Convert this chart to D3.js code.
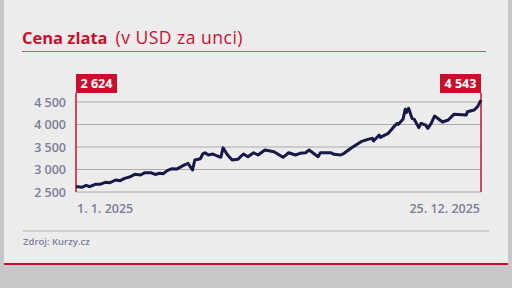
<!DOCTYPE html>
<html>
<head>
<meta charset="utf-8">
<script src="https://cdn.jsdelivr.net/npm/d3@7"></script>
<style>
  body{margin:0;background:#c7c7ca;}
  svg{display:block;font-family:"Open Sans",sans-serif;}
</style>
</head>
<body>
<svg id="chart" width="512" height="288"></svg>
<script>
var width=512;
var height=288;

// cena zlata 2025, USD za unci
var dates=["2025-01-01","2025-01-06","2025-01-10","2025-01-13","2025-01-18","2025-01-22","2025-01-27","2025-01-31",
"2025-02-05","2025-02-09","2025-02-13","2025-02-18","2025-02-22","2025-02-27","2025-03-03","2025-03-08","2025-03-12",
"2025-03-16","2025-03-19","2025-03-23","2025-03-27","2025-03-31","2025-04-06","2025-04-10","2025-04-14","2025-04-16",
"2025-04-21","2025-04-23","2025-04-25","2025-04-28","2025-05-02","2025-05-06","2025-05-09","2025-05-11","2025-05-15",
"2025-05-19","2025-05-24","2025-05-29","2025-06-02","2025-06-07","2025-06-11","2025-06-17","2025-06-25","2025-07-03",
"2025-07-08","2025-07-14","2025-07-18","2025-07-23","2025-07-26","2025-08-03","2025-08-05","2025-08-14","2025-08-17",
"2025-08-23","2025-08-26","2025-09-01","2025-09-10","2025-09-16","2025-09-20","2025-09-21","2025-09-26","2025-09-27",
"2025-10-04","2025-10-09","2025-10-12","2025-10-13","2025-10-17","2025-10-19","2025-10-20","2025-10-22","2025-10-25",
"2025-10-27","2025-10-31","2025-11-02","2025-11-06","2025-11-08","2025-11-11","2025-11-14","2025-11-21","2025-11-26",
"2025-12-01","2025-12-12","2025-12-13","2025-12-19","2025-12-22","2025-12-25"];
var prices=[2624,2604,2648,2618,2670,2670,2715,2707,
2767,2752,2804,2840,2893,2878,2930,2930,2890,
2915,2905,2980,3018,3010,3090,3137,2989,3211,
3240,3344,3373,3322,3344,3300,3271,3480,3322,
3211,3226,3344,3284,3373,3322,3433,3396,3271,
3373,3322,3360,3373,3433,3284,3373,3373,3338,
3322,3360,3471,3619,3670,3693,3633,3767,3715,
3804,3952,4026,4004,4115,4337,4263,4360,4137,
4115,3930,4026,3989,3915,4026,4189,4056,4100,
4226,4211,4285,4322,4396,4543];
var yTicks=[2500,3000,3500,4000,4500];
var xLabels=["1. 1. 2025","25. 12. 2025"];
var title="Cena zlata";
var subtitle="(v USD za unci)";
var source="Zdroj: Kurzy.cz";

var red="#c8102e";
var grey="#7b7e97";
var navy="#161848";

var parse=d3.timeParse("%Y-%m-%d");
var data=dates.map(function(d,i){return {date:parse(d),value:prices[i]};});

var svg=d3.select("#chart");

// panel
svg.append("rect").attr("x",4).attr("y",0).attr("width",504).attr("height",264).attr("fill","#ececec");
svg.append("line").attr("x1",4).attr("x2",508).attr("y1",264).attr("y2",264)
  .attr("stroke",red).attr("stroke-width",2);

// nadpis
var t=svg.append("text").attr("x",22).attr("y",44).attr("fill",red).style("font-size","16.5px");
t.append("tspan").style("font-weight","700").text(title);
t.append("tspan").attr("dx",8).style("font-weight","500").style("font-size","17.5px")
  .style("letter-spacing","0.5px").text(subtitle);
svg.append("line").attr("x1",22).attr("x2",486).attr("y1",51.5).attr("y2",51.5)
  .attr("stroke","#cf5a6e").attr("stroke-width",1);

var x=d3.scaleTime()
  .domain([data[0].date,data[data.length-1].date])
  .range([76,481]);
var y=d3.scaleLinear().domain([2500,4500]).range([192,102]);

var fmt=function(v){return d3.format(",")(v).replace(/,/g," ");};

// mrizka
svg.append("g").selectAll("line").data(yTicks).join("line")
  .attr("x1",76).attr("x2",481)
  .attr("y1",d=>y(d)).attr("y2",d=>y(d))
  .attr("stroke","#a9a9b0").attr("stroke-width",1.2);

svg.append("g").selectAll("text").data(yTicks).join("text")
  .attr("x",66).attr("y",d=>y(d)).attr("dy","0.36em")
  .attr("text-anchor","end").attr("fill",grey)
  .style("font-size","12.5px").style("font-weight","600")
  .text(d=>fmt(d));

// svisle cary na zacatku a konci
var first=data[0], last=data[data.length-1];
[first,last].forEach(function(d){
  svg.append("line").attr("x1",x(d.date)).attr("x2",x(d.date))
    .attr("y1",93).attr("y2",192).attr("stroke",red).attr("stroke-width",1.5);
});

// linie
var line=d3.line().x(d=>x(d.date)).y(d=>y(d.value));
svg.append("path").datum(data).attr("d",line)
  .attr("fill","none").attr("stroke",navy).attr("stroke-width",3)
  .attr("stroke-linejoin","round");

// stitky hodnot
var boxes=[{d:first,x0:x(first.date)},{d:last,x0:x(last.date)-41}];
boxes.forEach(function(b){
  svg.append("rect").attr("x",b.x0).attr("y",74).attr("width",41).attr("height",19).attr("fill",red);
  svg.append("text").attr("x",b.x0+20.5).attr("y",83.5).attr("dy","0.36em")
    .attr("text-anchor","middle").attr("fill","#fff")
    .style("font-size","12.5px").style("font-weight","700")
    .text(fmt(b.d.value));
});

// datumy
svg.append("text").attr("x",77).attr("y",213).attr("fill",grey)
  .style("font-size","12.5px").style("font-weight","600").text(xLabels[0]);
svg.append("text").attr("x",480).attr("y",213).attr("text-anchor","end").attr("fill",grey)
  .style("font-size","12.5px").style("font-weight","600").text(xLabels[1]);

// zdroj
svg.append("line").attr("x1",23).attr("x2",489).attr("y1",231).attr("y2",231)
  .attr("stroke","#b4b4bc").attr("stroke-width",1);
svg.append("text").attr("x",23).attr("y",245).attr("fill",grey)
  .style("font-size","9.5px").style("font-weight","600").text(source);
</script>
</body>
</html>
